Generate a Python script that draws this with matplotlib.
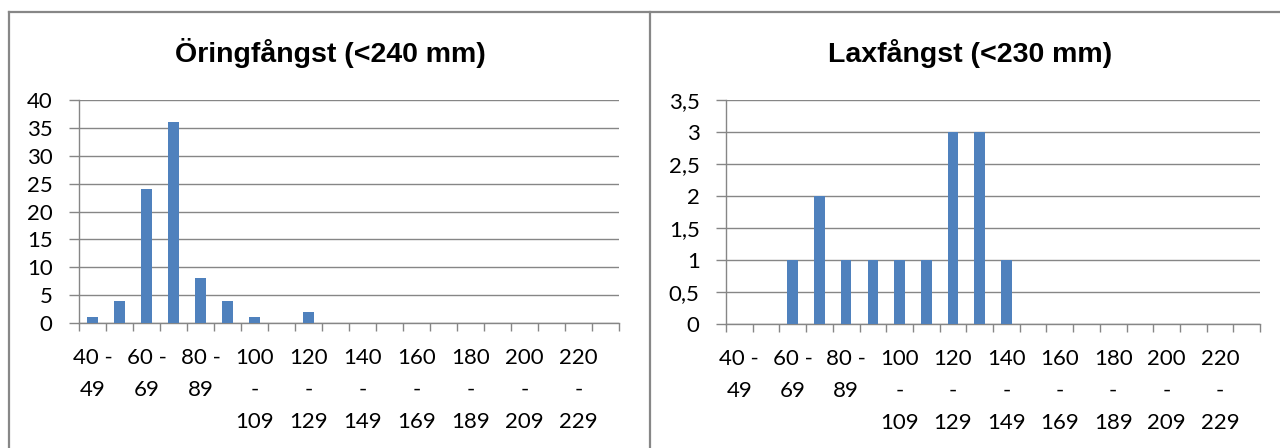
import matplotlib
matplotlib.use("Agg")
import matplotlib.pyplot as plt
from matplotlib.lines import Line2D
from matplotlib.ticker import FuncFormatter, MultipleLocator

# length classes (mm), 40-49 ... 230-239
classes = ["40 - 49", "50 - 59", "60 - 69", "70 - 79", "80 - 89", "90 - 99",
           "100 - 109", "110 - 119", "120 - 129", "130 - 139", "140 - 149",
           "150 - 159", "160 - 169", "170 - 179", "180 - 189", "190 - 199",
           "200 - 209", "210 - 219", "220 - 229", "230 - 239"]
oring = [1, 4, 24, 36, 8, 4, 1, 0, 2, 0, 0, 0, 0, 0, 0, 0, 0, 0, 0, 0]
lax = [0, 0, 1, 2, 1, 1, 1, 1, 3, 3, 1, 0, 0, 0, 0, 0, 0, 0, 0, 0]

titles = ["Öringfångst (<240 mm)", "Laxfångst (<230 mm)"]

bar_col = "#4F81BD"
grid_col = "#868686"
tick_font = ["Lato", "DejaVu Sans"]


def wrap(lbl):
    lo, hi = lbl.split(" - ")
    if len(lo) < 3:
        return lo + " -\n" + hi
    return lo + "\n-\n" + hi


fig = plt.figure(figsize=(12.8, 4.48), dpi=100)

# panel frames
fc = "#878787"
fig.add_artist(Line2D([9 / 1280, 1.0], [1 - 12 / 448, 1 - 12 / 448], color=fc, lw=1.6))
fig.add_artist(Line2D([9 / 1280, 9 / 1280], [0, 1 - 12 / 448], color=fc, lw=1.6))
fig.add_artist(Line2D([650 / 1280, 650 / 1280], [0, 1 - 12 / 448], color=fc, lw=1.6))

ax1 = fig.add_axes([79 / 1280, 1 - 323 / 448, 540 / 1280, 223 / 448])
ax2 = fig.add_axes([726 / 1280, 1 - 324 / 448, 534 / 1280, 224 / 448])

for ax, vals, title, cx, ymax, step in [
        (ax1, oring, titles[0], 330, 40, 5),
        (ax2, lax, titles[1], 970, 3.5, 0.5)]:
    x = list(range(len(vals)))
    ax.bar(x, vals, width=0.4, color=bar_col, zorder=3)
    ax.set_xlim(-0.5, len(vals) - 0.5)
    ax.set_ylim(0, ymax)
    ax.yaxis.set_major_locator(MultipleLocator(step))
    ax.yaxis.set_major_formatter(FuncFormatter(
        lambda v, p: ("%g" % v).replace(".", ",")))
    ax.grid(axis="y", color=grid_col, lw=1.0, zorder=0)
    for s in ["top", "right"]:
        ax.spines[s].set_visible(False)
    for s in ["left", "bottom"]:
        ax.spines[s].set_color(grid_col)
        ax.spines[s].set_linewidth(1.0)
    # category boundary ticks
    ax.set_xticks([i - 0.5 for i in range(len(vals) + 1)], minor=False)
    ax.set_xticklabels([])
    ax.set_xticks(x[::2], minor=True)
    ax.set_xticklabels([wrap(c) for c in classes[::2]][:10], minor=True,
                       family=tick_font, fontsize=16, linespacing=1.76,
                       va="top")
    ax.tick_params(axis="x", which="major", length=6, color=grid_col, width=1.0)
    ax.tick_params(axis="x", which="minor", length=0, pad=18)
    ax.tick_params(axis="y", length=7, color=grid_col, width=1.0, pad=12,
                   labelsize=16)
    for t in ax.get_yticklabels():
        t.set_family(tick_font)
    fig.text(cx / 1280, 1 - 53 / 448, title, ha="center", va="center",
             family=["Liberation Sans", "DejaVu Sans"], fontweight="bold",
             fontsize=20.5)

fig.savefig("out.png", dpi=100)
